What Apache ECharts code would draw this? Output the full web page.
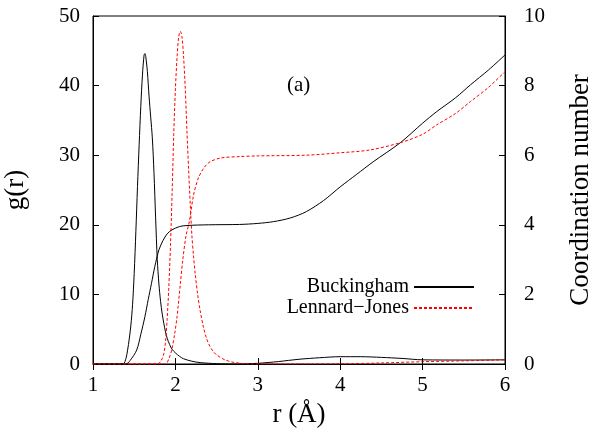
<!DOCTYPE html>
<html><head><meta charset="utf-8">
<script src="https://cdn.jsdelivr.net/npm/echarts@6/dist/echarts.min.js"></script>
<style>html,body{margin:0;padding:0;background:#fff}#c{width:594px;height:432px}</style>
</head><body><div id="c"></div>
<script>
// r values and g(r) for Buckingham (left axis)
const buckGR_r = [1.0,1.30,1.37,1.40,1.42,1.44,1.46,1.48,1.50,1.52,1.54,1.56,1.58,1.60,1.62,1.63,1.64,1.66,1.68,1.70,1.72,1.74,1.76,1.78,1.80,1.82,1.84,1.86,1.88,1.90,1.93,1.96,2.0,2.05,2.1,2.2,2.3,2.5,2.7,3.0,3.25,3.5,3.75,4.0,4.25,4.5,4.75,5.0,5.5,6.0];
const buckGR_v = [0,0,0.05,0.8,2.0,3.6,5.6,8.5,13,19,25.5,31.5,37,41.5,44.4,44.6,44.2,42,38.5,35.5,32.5,27.5,21,15,11.5,9,7.2,5.8,4.6,3.7,2.8,2.1,1.6,1.1,0.75,0.4,0.2,0.05,0,0.1,0.35,0.68,0.9,1.05,1.05,0.95,0.8,0.6,0.57,0.6];
// g(r) for Lennard-Jones (left axis)
const ljGR_r = [1.0,1.78,1.80,1.82,1.84,1.86,1.88,1.90,1.92,1.94,1.96,1.98,2.00,2.02,2.04,2.06,2.08,2.10,2.12,2.14,2.16,2.18,2.20,2.22,2.24,2.27,2.30,2.34,2.38,2.42,2.46,2.5,2.6,2.7,2.8,2.9,4.0,4.5,5.0,5.5,6.0];
const ljGR_v = [0,0,0.1,0.3,0.8,1.5,3.2,6.5,11,17,24.5,33,39.5,44,47,47.8,47,44,39.5,33.5,28,23,18.5,15.5,13,10,7.7,5.3,3.6,2.5,1.8,1.3,0.6,0.25,0.1,0,0.02,0.15,0.33,0.45,0.6];
// coordination number, Buckingham (right axis)
const buckCN_r = [1.0,1.40,1.45,1.53,1.58,1.63,1.67,1.71,1.75,1.80,1.85,1.90,1.955,2.05,2.14,2.4,2.78,3.0,3.19,3.4,3.59,3.8,4.0,4.2,4.4,4.73,5.0,5.17,5.4,5.58,5.8,6.0];
const buckCN_v = [0,0,0.1,0.4,0.85,1.36,1.85,2.32,2.8,3.28,3.55,3.74,3.85,3.95,3.98,4.0,4.01,4.04,4.09,4.2,4.38,4.7,5.09,5.45,5.81,6.36,6.92,7.25,7.65,8.02,8.45,8.88];
// coordination number, Lennard-Jones (right axis)
const ljCN_r = [1.0,1.88,1.92,1.955,1.99,2.02,2.06,2.09,2.13,2.17,2.22,2.28,2.35,2.42,2.55,2.78,3.0,3.59,4.0,4.36,4.73,5.0,5.17,5.4,5.58,5.8,6.0];
const ljCN_v = [0,0,0.15,0.4,0.85,1.36,2.3,3.0,3.7,4.1,4.85,5.35,5.65,5.81,5.92,5.96,5.98,6.0,6.07,6.15,6.36,6.6,6.87,7.2,7.54,7.95,8.40];
const xTicks = [1,2,3,4,5,6];
const leftTicks = [0,10,20,30,40,50];
const rightTicks = [0,2,4,6,8,10];

const zip = (a,b) => a.map((x,i)=>[x,b[i]]);
const FONT = 'Liberation Serif';
const txt = {color:'#000', fontFamily:FONT, fontSize:21};
const nameTxt = {color:'#000', fontFamily:FONT, fontSize:27};

const chart = echarts.init(document.getElementById('c'), null, {renderer:'canvas'});
chart.setOption({
  animation:false,
  backgroundColor:'#fff',
  grid:{left:93, right:89, top:16, bottom:68, show:true, borderColor:'#000', borderWidth:1, backgroundColor:'transparent', containLabel:false, outerBoundsMode:'none'},
  xAxis:[{
    type:'value', min:xTicks[0], max:xTicks[xTicks.length-1], interval:1, position:'bottom',
    name:'r (Å)', nameLocation:'middle', nameGap:37, nameTextStyle:nameTxt,
    axisLine:{show:true, lineStyle:{color:'#000', width:1}},
    axisTick:{show:true, inside:true, length:6, lineStyle:{color:'#000'}},
    axisLabel:Object.assign({margin:11}, txt),
    splitLine:{show:false}
  },{
    type:'value', min:xTicks[0], max:xTicks[xTicks.length-1], interval:1, position:'top',
    axisLine:{show:false}, axisLabel:{show:false},
    axisTick:{show:true, inside:true, length:6, lineStyle:{color:'#000'}},
    splitLine:{show:false}
  }],
  yAxis:[{
    type:'value', min:leftTicks[0], max:leftTicks[leftTicks.length-1], interval:10, position:'left',
    name:'g(r)', nameLocation:'middle', nameGap:64, nameRotate:90, nameTextStyle:nameTxt,
    axisLine:{show:true, lineStyle:{color:'#000', width:1}},
    axisTick:{show:true, inside:true, length:6, lineStyle:{color:'#000'}},
    axisLabel:Object.assign({margin:13}, txt),
    splitLine:{show:false}
  },{
    type:'value', min:rightTicks[0], max:rightTicks[rightTicks.length-1], interval:2, position:'right',
    name:'Coordination number', nameLocation:'middle', nameGap:62, nameRotate:90, nameTextStyle:nameTxt,
    axisLine:{show:true, lineStyle:{color:'#000', width:1}},
    axisTick:{show:true, inside:true, length:6, lineStyle:{color:'#000'}},
    axisLabel:Object.assign({margin:19}, txt),
    splitLine:{show:false}
  }],
  legend:[{
    data:['Buckingham'], right:119, top:277, orient:'vertical', align:'right',
    itemWidth:60, itemHeight:14, itemGap:7, padding:0, itemStyle:{opacity:0},
    textStyle:Object.assign({},txt,{fontSize:20})
  },{
    data:['Lennard−Jones'], right:119, top:298, orient:'vertical', align:'right',
    itemWidth:60, itemHeight:14, itemGap:7, padding:0, itemStyle:{opacity:0},
    textStyle:Object.assign({},txt,{fontSize:20})
  }],
  graphic:[{type:'text', left:287, top:75, style:{text:'(a)', fill:'#000', font:'21px "Liberation Serif"'}}],
  series:[
    {name:'Buckingham', type:'line', xAxisIndex:0, yAxisIndex:0, data:zip(buckGR_r,buckGR_v), showSymbol:false, symbol:'none', smooth:0.3, lineStyle:{color:'#000', width:1}, itemStyle:{color:'#000'}},
    {name:'Lennard−Jones', type:'line', xAxisIndex:0, yAxisIndex:0, data:zip(ljGR_r,ljGR_v), showSymbol:false, symbol:'none', smooth:0.3, lineStyle:{color:'#ff0000', width:1, type:[3,2]}, itemStyle:{color:'#ff0000'}},
    {name:'Buckingham', type:'line', xAxisIndex:0, yAxisIndex:1, data:zip(buckCN_r,buckCN_v), showSymbol:false, symbol:'none', smooth:0.3, lineStyle:{color:'#000', width:1}, itemStyle:{color:'#000'}},
    {name:'Lennard−Jones', type:'line', xAxisIndex:0, yAxisIndex:1, data:zip(ljCN_r,ljCN_v), showSymbol:false, symbol:'none', smooth:0.3, lineStyle:{color:'#ff0000', width:1, type:[3,2]}, itemStyle:{color:'#ff0000'}}
  ]
});
</script></body></html>
